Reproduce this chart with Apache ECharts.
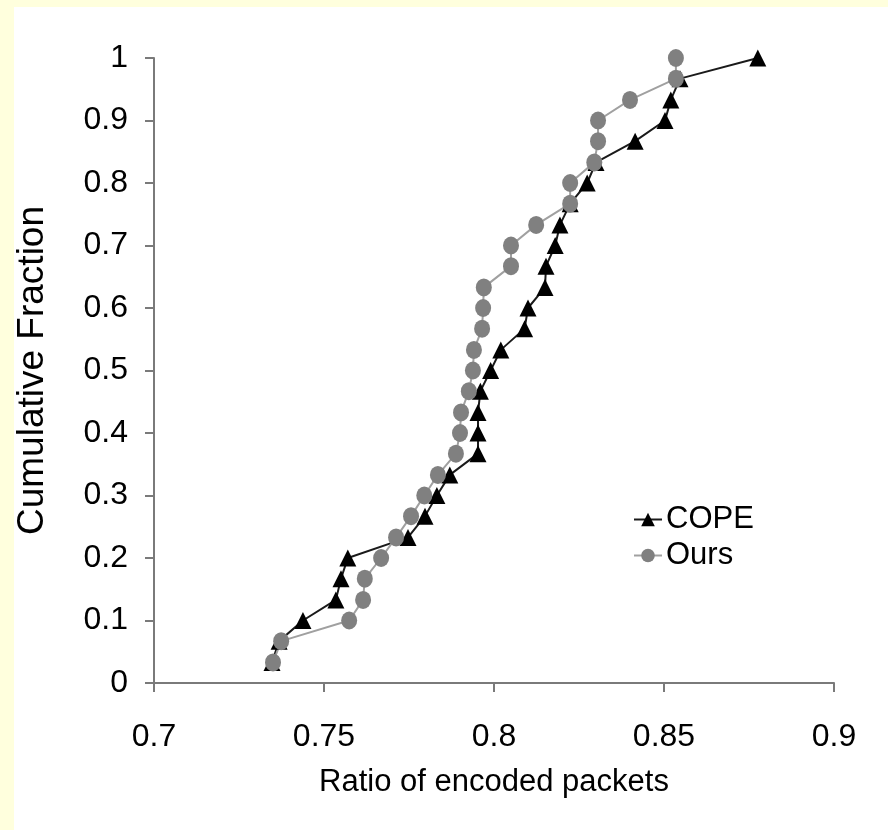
<!DOCTYPE html>
<html>
<head>
<meta charset="utf-8">
<script src="https://cdn.jsdelivr.net/npm/echarts@6/dist/echarts.min.js"></script>
<style>
    html, body { margin: 0; padding: 0; background: #ffffdd; }
    #frame { position: absolute; left: 14px; top: 7px; right: 0; bottom: 0; background: #ffffff; }
    #main { position: absolute; left: 0; top: 0; width: 888px; height: 830px; }
</style>
</head>
<body>
<div id="frame"></div>
<div id="main"></div>
<script>
// cumulative fraction levels (30 samples)
var fractions = [0.033, 0.067, 0.1, 0.133, 0.167, 0.2, 0.233, 0.267, 0.3, 0.333,
    0.367, 0.4, 0.433, 0.467, 0.5, 0.533, 0.567, 0.6, 0.633, 0.667,
    0.7, 0.733, 0.767, 0.8, 0.833, 0.867, 0.9, 0.933, 0.967, 1];

var copeRatio = [0.7347, 0.7368, 0.7438, 0.7535, 0.755, 0.757, 0.7747, 0.7797, 0.7832, 0.787,
    0.7953, 0.7953, 0.7953, 0.796, 0.799, 0.802, 0.809, 0.810, 0.815, 0.8153,
    0.818, 0.8194, 0.8224, 0.8274, 0.830, 0.8415, 0.8503, 0.852, 0.8547, 0.8776];

var oursRatio = [0.735, 0.7374, 0.7574, 0.7615, 0.762, 0.7668, 0.7712, 0.7756, 0.7795, 0.7835,
    0.7888, 0.790, 0.7903, 0.7926, 0.7938, 0.7941, 0.7965, 0.7968, 0.797, 0.805,
    0.805, 0.8124, 0.8224, 0.8224, 0.8295, 0.8306, 0.8306, 0.840, 0.8535, 0.8535];

var xTicks = [0.7, 0.75, 0.8, 0.85, 0.9];

var chartDom = document.getElementById('main');
var myChart = echarts.init(chartDom);

function pairs(xs, ys) {
    return xs.map(function (x, i) { return [x, ys[i]]; });
}

var font = "'Liberation Sans', Arial, sans-serif";

var option = {
    animation: false,
    grid: { left: 154, top: 58, right: 54, bottom: 147 },
    legend: {
        left: 628,
        top: 499,
        orient: 'vertical',
        itemWidth: 28,
        itemHeight: 17,
        itemGap: 5,
        textStyle: { fontSize: 31, color: '#000', fontFamily: font, padding: [0, 0, 0, -1] },
        data: ['COPE', 'Ours']
    },
    xAxis: {
        type: 'value',
        min: 0.7,
        max: 0.9,
        interval: 0.05,
        name: 'Ratio of encoded packets',
        nameLocation: 'middle',
        nameGap: 84,
        nameTextStyle: { fontSize: 31, color: '#000', fontFamily: font },
        axisLine: { lineStyle: { color: '#7a7a7a', width: 2 } },
        axisTick: { length: 9, lineStyle: { color: '#7a7a7a', width: 2 } },
        axisLabel: {
            fontSize: 32, color: '#000', fontFamily: font, margin: 38,
            formatter: function (v) { return xTicks.indexOf(+v.toFixed(2)) >= 0 ? +v.toFixed(2) : ''; }
        },
        splitLine: { show: false }
    },
    yAxis: {
        type: 'value',
        min: 0,
        max: 1,
        interval: 0.1,
        name: 'Cumulative Fraction',
        nameLocation: 'middle',
        nameGap: 103,
        nameTextStyle: { fontSize: 37, color: '#000', fontFamily: font },
        axisLine: { show: true, lineStyle: { color: '#7a7a7a', width: 2 } },
        axisTick: { show: true, length: 9, lineStyle: { color: '#7a7a7a', width: 2 } },
        axisLabel: {
            fontSize: 32, color: '#000', fontFamily: font, margin: 26,
            formatter: function (v) { return +v.toFixed(1); }
        },
        splitLine: { show: false }
    },
    series: [
        {
            name: 'COPE',
            type: 'line',
            symbol: 'triangle',
            symbolSize: [17, 17],
            lineStyle: { color: '#1a1a1a', width: 2 },
            itemStyle: { color: '#000000' },
            data: pairs(copeRatio, fractions)
        },
        {
            name: 'Ours',
            type: 'line',
            symbol: 'circle',
            symbolSize: [16, 18],
            lineStyle: { color: '#a0a0a0', width: 2 },
            itemStyle: { color: '#808080' },
            data: pairs(oursRatio, fractions)
        }
    ]
};

myChart.setOption(option);
</script>
</body>
</html>
